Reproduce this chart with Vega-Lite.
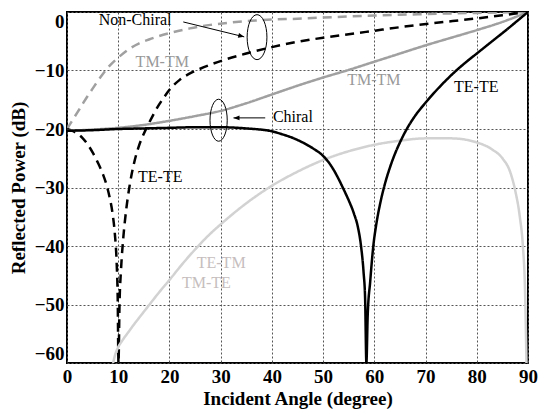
{
  "$schema": "https://vega.github.io/schema/vega-lite/v6.json",
  "width": 461,
  "height": 351,
  "autosize": "none",
  "padding": {"left": 67, "top": 12, "right": 11, "bottom": 48},
  "background": "white",
  "config": {
    "view": {"stroke": "#000000", "strokeWidth": 2},
    "font": "Liberation Serif",
    "axis": {
      "labelFont": "Liberation Serif",
      "labelFontWeight": "bold",
      "labelFontSize": 19,
      "labelColor": "#000000",
      "titleFont": "Liberation Serif",
      "titleFontWeight": "bold",
      "titleFontSize": 19,
      "titleColor": "#000000",
      "grid": true,
      "gridColor": "#555555",
      "gridDash": [2, 2],
      "gridWidth": 1,
      "gridOpacity": 1,
      "domain": false,
      "ticks": false
    }
  },
  "datasets": {
    "curves": [
      {"curve": "Non-Chiral TM-TM", "angle": 0, "power": -20},
      {"curve": "Non-Chiral TM-TM", "angle": 1, "power": -18.6},
      {"curve": "Non-Chiral TM-TM", "angle": 2, "power": -17.2},
      {"curve": "Non-Chiral TM-TM", "angle": 3, "power": -15.8},
      {"curve": "Non-Chiral TM-TM", "angle": 4, "power": -14.4},
      {"curve": "Non-Chiral TM-TM", "angle": 5, "power": -13.1},
      {"curve": "Non-Chiral TM-TM", "angle": 6, "power": -11.8},
      {"curve": "Non-Chiral TM-TM", "angle": 7, "power": -10.6},
      {"curve": "Non-Chiral TM-TM", "angle": 8, "power": -9.5},
      {"curve": "Non-Chiral TM-TM", "angle": 10, "power": -7.8},
      {"curve": "Non-Chiral TM-TM", "angle": 12, "power": -6.4},
      {"curve": "Non-Chiral TM-TM", "angle": 14, "power": -5.4},
      {"curve": "Non-Chiral TM-TM", "angle": 16, "power": -4.7},
      {"curve": "Non-Chiral TM-TM", "angle": 18, "power": -4.1},
      {"curve": "Non-Chiral TM-TM", "angle": 20, "power": -3.6},
      {"curve": "Non-Chiral TM-TM", "angle": 24, "power": -2.8},
      {"curve": "Non-Chiral TM-TM", "angle": 28, "power": -2.2},
      {"curve": "Non-Chiral TM-TM", "angle": 32, "power": -1.8},
      {"curve": "Non-Chiral TM-TM", "angle": 36, "power": -1.5},
      {"curve": "Non-Chiral TM-TM", "angle": 40, "power": -1.3},
      {"curve": "Non-Chiral TM-TM", "angle": 45, "power": -1.15},
      {"curve": "Non-Chiral TM-TM", "angle": 50, "power": -0.95},
      {"curve": "Non-Chiral TM-TM", "angle": 60, "power": -0.6},
      {"curve": "Non-Chiral TM-TM", "angle": 70, "power": -0.35},
      {"curve": "Non-Chiral TM-TM", "angle": 80, "power": -0.15},
      {"curve": "Non-Chiral TM-TM", "angle": 90, "power": 0},

      {"curve": "Non-Chiral TE-TE", "angle": 0, "power": -20},
      {"curve": "Non-Chiral TE-TE", "angle": 1.5, "power": -20.5},
      {"curve": "Non-Chiral TE-TE", "angle": 3, "power": -21.5},
      {"curve": "Non-Chiral TE-TE", "angle": 4, "power": -22.6},
      {"curve": "Non-Chiral TE-TE", "angle": 5, "power": -24},
      {"curve": "Non-Chiral TE-TE", "angle": 6, "power": -25.7},
      {"curve": "Non-Chiral TE-TE", "angle": 7, "power": -27.7},
      {"curve": "Non-Chiral TE-TE", "angle": 7.7, "power": -29.5},
      {"curve": "Non-Chiral TE-TE", "angle": 8.3, "power": -31.6},
      {"curve": "Non-Chiral TE-TE", "angle": 8.9, "power": -34.5},
      {"curve": "Non-Chiral TE-TE", "angle": 9.35, "power": -38},
      {"curve": "Non-Chiral TE-TE", "angle": 9.7, "power": -43},
      {"curve": "Non-Chiral TE-TE", "angle": 9.9, "power": -49},
      {"curve": "Non-Chiral TE-TE", "angle": 10.05, "power": -60},
      {"curve": "Non-Chiral TE-TE", "angle": 10.25, "power": -50},
      {"curve": "Non-Chiral TE-TE", "angle": 10.55, "power": -44},
      {"curve": "Non-Chiral TE-TE", "angle": 11, "power": -38.5},
      {"curve": "Non-Chiral TE-TE", "angle": 11.6, "power": -33.5},
      {"curve": "Non-Chiral TE-TE", "angle": 12.3, "power": -29.3},
      {"curve": "Non-Chiral TE-TE", "angle": 13.1, "power": -25.8},
      {"curve": "Non-Chiral TE-TE", "angle": 14, "power": -23},
      {"curve": "Non-Chiral TE-TE", "angle": 15, "power": -20.8},
      {"curve": "Non-Chiral TE-TE", "angle": 16, "power": -19},
      {"curve": "Non-Chiral TE-TE", "angle": 17, "power": -17.3},
      {"curve": "Non-Chiral TE-TE", "angle": 18, "power": -15.8},
      {"curve": "Non-Chiral TE-TE", "angle": 19, "power": -14.5},
      {"curve": "Non-Chiral TE-TE", "angle": 20, "power": -13.3},
      {"curve": "Non-Chiral TE-TE", "angle": 22, "power": -11.6},
      {"curve": "Non-Chiral TE-TE", "angle": 24, "power": -10.5},
      {"curve": "Non-Chiral TE-TE", "angle": 26, "power": -9.7},
      {"curve": "Non-Chiral TE-TE", "angle": 28, "power": -9.0},
      {"curve": "Non-Chiral TE-TE", "angle": 31, "power": -8.1},
      {"curve": "Non-Chiral TE-TE", "angle": 35, "power": -7.1},
      {"curve": "Non-Chiral TE-TE", "angle": 40, "power": -6.0},
      {"curve": "Non-Chiral TE-TE", "angle": 45, "power": -5.1},
      {"curve": "Non-Chiral TE-TE", "angle": 50, "power": -4.4},
      {"curve": "Non-Chiral TE-TE", "angle": 55, "power": -3.8},
      {"curve": "Non-Chiral TE-TE", "angle": 60, "power": -3.2},
      {"curve": "Non-Chiral TE-TE", "angle": 65, "power": -2.6},
      {"curve": "Non-Chiral TE-TE", "angle": 71, "power": -1.95},
      {"curve": "Non-Chiral TE-TE", "angle": 80, "power": -1.1},
      {"curve": "Non-Chiral TE-TE", "angle": 85, "power": -0.55},
      {"curve": "Non-Chiral TE-TE", "angle": 90, "power": 0},

      {"curve": "Chiral TM-TM", "angle": 0, "power": -20.3},
      {"curve": "Chiral TM-TM", "angle": 5, "power": -20.1},
      {"curve": "Chiral TM-TM", "angle": 10, "power": -19.8},
      {"curve": "Chiral TM-TM", "angle": 15, "power": -19.3},
      {"curve": "Chiral TM-TM", "angle": 20, "power": -18.6},
      {"curve": "Chiral TM-TM", "angle": 25, "power": -17.8},
      {"curve": "Chiral TM-TM", "angle": 30, "power": -16.9},
      {"curve": "Chiral TM-TM", "angle": 35, "power": -15.6},
      {"curve": "Chiral TM-TM", "angle": 40, "power": -14.1},
      {"curve": "Chiral TM-TM", "angle": 45, "power": -12.6},
      {"curve": "Chiral TM-TM", "angle": 50, "power": -11.2},
      {"curve": "Chiral TM-TM", "angle": 55, "power": -9.9},
      {"curve": "Chiral TM-TM", "angle": 60, "power": -8.5},
      {"curve": "Chiral TM-TM", "angle": 65, "power": -7.1},
      {"curve": "Chiral TM-TM", "angle": 70, "power": -5.7},
      {"curve": "Chiral TM-TM", "angle": 75, "power": -4.4},
      {"curve": "Chiral TM-TM", "angle": 80, "power": -3.1},
      {"curve": "Chiral TM-TM", "angle": 85, "power": -1.7},
      {"curve": "Chiral TM-TM", "angle": 90, "power": 0},

      {"curve": "TE-TM / TM-TE", "angle": 9, "power": -60},
      {"curve": "TE-TM / TM-TE", "angle": 9.4, "power": -58.6},
      {"curve": "TE-TM / TM-TE", "angle": 10, "power": -57.3},
      {"curve": "TE-TM / TM-TE", "angle": 11, "power": -55.9},
      {"curve": "TE-TM / TM-TE", "angle": 12, "power": -54.7},
      {"curve": "TE-TM / TM-TE", "angle": 13, "power": -53.5},
      {"curve": "TE-TM / TM-TE", "angle": 14.5, "power": -51.8},
      {"curve": "TE-TM / TM-TE", "angle": 16.2, "power": -49.9},
      {"curve": "TE-TM / TM-TE", "angle": 18, "power": -47.9},
      {"curve": "TE-TM / TM-TE", "angle": 20, "power": -45.8},
      {"curve": "TE-TM / TM-TE", "angle": 22.5, "power": -43.1},
      {"curve": "TE-TM / TM-TE", "angle": 25, "power": -40.6},
      {"curve": "TE-TM / TM-TE", "angle": 27.5, "power": -38.3},
      {"curve": "TE-TM / TM-TE", "angle": 30, "power": -36.3},
      {"curve": "TE-TM / TM-TE", "angle": 35, "power": -32.7},
      {"curve": "TE-TM / TM-TE", "angle": 40, "power": -29.7},
      {"curve": "TE-TM / TM-TE", "angle": 45, "power": -27.3},
      {"curve": "TE-TM / TM-TE", "angle": 50, "power": -25.3},
      {"curve": "TE-TM / TM-TE", "angle": 55, "power": -23.8},
      {"curve": "TE-TM / TM-TE", "angle": 60, "power": -22.7},
      {"curve": "TE-TM / TM-TE", "angle": 65, "power": -22},
      {"curve": "TE-TM / TM-TE", "angle": 70, "power": -21.6},
      {"curve": "TE-TM / TM-TE", "angle": 75, "power": -21.6},
      {"curve": "TE-TM / TM-TE", "angle": 80, "power": -22.3},
      {"curve": "TE-TM / TM-TE", "angle": 83, "power": -23.5},
      {"curve": "TE-TM / TM-TE", "angle": 85, "power": -25},
      {"curve": "TE-TM / TM-TE", "angle": 86.5, "power": -27.3},
      {"curve": "TE-TM / TM-TE", "angle": 87.5, "power": -30.5},
      {"curve": "TE-TM / TM-TE", "angle": 88.4, "power": -35},
      {"curve": "TE-TM / TM-TE", "angle": 89.0, "power": -40},
      {"curve": "TE-TM / TM-TE", "angle": 89.4, "power": -47},
      {"curve": "TE-TM / TM-TE", "angle": 89.7, "power": -60},

      {"curve": "Chiral TE-TE", "angle": 0, "power": -20.3},
      {"curve": "Chiral TE-TE", "angle": 5, "power": -20.2},
      {"curve": "Chiral TE-TE", "angle": 10, "power": -20.0},
      {"curve": "Chiral TE-TE", "angle": 15, "power": -19.9},
      {"curve": "Chiral TE-TE", "angle": 20, "power": -19.8},
      {"curve": "Chiral TE-TE", "angle": 25, "power": -19.7},
      {"curve": "Chiral TE-TE", "angle": 30, "power": -19.7},
      {"curve": "Chiral TE-TE", "angle": 35, "power": -19.9},
      {"curve": "Chiral TE-TE", "angle": 40, "power": -20.4},
      {"curve": "Chiral TE-TE", "angle": 42, "power": -20.9},
      {"curve": "Chiral TE-TE", "angle": 44, "power": -21.5},
      {"curve": "Chiral TE-TE", "angle": 46, "power": -22.3},
      {"curve": "Chiral TE-TE", "angle": 48, "power": -23.3},
      {"curve": "Chiral TE-TE", "angle": 50, "power": -24.6},
      {"curve": "Chiral TE-TE", "angle": 51, "power": -25.6},
      {"curve": "Chiral TE-TE", "angle": 52, "power": -26.9},
      {"curve": "Chiral TE-TE", "angle": 53, "power": -28.5},
      {"curve": "Chiral TE-TE", "angle": 54, "power": -30.3},
      {"curve": "Chiral TE-TE", "angle": 55, "power": -32.2},
      {"curve": "Chiral TE-TE", "angle": 56, "power": -34.4},
      {"curve": "Chiral TE-TE", "angle": 56.8, "power": -36.8},
      {"curve": "Chiral TE-TE", "angle": 57.4, "power": -40},
      {"curve": "Chiral TE-TE", "angle": 57.9, "power": -44.5},
      {"curve": "Chiral TE-TE", "angle": 58.2, "power": -49},
      {"curve": "Chiral TE-TE", "angle": 58.45, "power": -60},
      {"curve": "Chiral TE-TE", "angle": 58.7, "power": -52},
      {"curve": "Chiral TE-TE", "angle": 59.2, "power": -46},
      {"curve": "Chiral TE-TE", "angle": 59.8, "power": -40},
      {"curve": "Chiral TE-TE", "angle": 60.4, "power": -36.2},
      {"curve": "Chiral TE-TE", "angle": 61.1, "power": -32.9},
      {"curve": "Chiral TE-TE", "angle": 62, "power": -29.6},
      {"curve": "Chiral TE-TE", "angle": 63, "power": -26.7},
      {"curve": "Chiral TE-TE", "angle": 64, "power": -24.3},
      {"curve": "Chiral TE-TE", "angle": 65, "power": -22.3},
      {"curve": "Chiral TE-TE", "angle": 66.4, "power": -19.9},
      {"curve": "Chiral TE-TE", "angle": 68, "power": -17.7},
      {"curve": "Chiral TE-TE", "angle": 70, "power": -15.5},
      {"curve": "Chiral TE-TE", "angle": 72, "power": -13.5},
      {"curve": "Chiral TE-TE", "angle": 74.2, "power": -11.5},
      {"curve": "Chiral TE-TE", "angle": 76, "power": -10},
      {"curve": "Chiral TE-TE", "angle": 78, "power": -8.5},
      {"curve": "Chiral TE-TE", "angle": 80, "power": -7.1},
      {"curve": "Chiral TE-TE", "angle": 82, "power": -5.7},
      {"curve": "Chiral TE-TE", "angle": 84, "power": -4.3},
      {"curve": "Chiral TE-TE", "angle": 86, "power": -2.9},
      {"curve": "Chiral TE-TE", "angle": 88, "power": -1.45},
      {"curve": "Chiral TE-TE", "angle": 90, "power": 0}
    ],
    "labels": [
      {"label": "Non-Chiral", "group": "black", "angle": 13.3, "power": -1.4},
      {"label": "Chiral", "group": "black", "angle": 44.1, "power": -17.9},
      {"label": "TE-TE", "group": "black", "angle": 18.2, "power": -28.2},
      {"label": "TE-TE", "group": "black", "angle": 79.9, "power": -12.9},
      {"label": "TM-TM", "group": "gray", "angle": 18.6, "power": -8.5},
      {"label": "TM-TM", "group": "gray", "angle": 59.9, "power": -11.6},
      {"label": "TE-TM", "group": "light", "angle": 30.1, "power": -42.9},
      {"label": "TM-TE", "group": "light", "angle": 27.2, "power": -46.3}
    ],
    "ellipses": [
      {"name": "Non-Chiral", "angle": 37.1, "power": -4.3},
      {"name": "Chiral", "angle": 29.6, "power": -18.5}
    ],
    "arrows": [
      {"name": "Non-Chiral", "angle": 22.7, "power": -1.7, "angle2": 34.6, "power2": -4.25},
      {"name": "Chiral", "angle": 38.7, "power": -18.1, "angle2": 32.5, "power2": -18.1}
    ]
  },
  "layer": [
    {
      "data": {"name": "curves"},
      "mark": {"type": "line", "strokeWidth": 2.5, "clip": true, "interpolate": "monotone"},
      "encoding": {
        "x": {
          "field": "angle",
          "type": "quantitative",
          "scale": {"domain": [0, 90], "nice": false},
          "axis": {
            "title": "Incident Angle (degree)",
            "values": [0, 10, 20, 30, 40, 50, 60, 70, 80, 90],
            "labelFlush": false,
            "labelPadding": 4,
            "titlePadding": 3
          }
        },
        "y": {
          "field": "power",
          "type": "quantitative",
          "scale": {"domain": [-60, 0], "nice": false},
          "axis": {
            "title": "Reflected Power (dB)",
            "values": [-60, -50, -40, -30, -20, -10, 0],
            "labelFlush": true,
            "labelPadding": 3,
            "titlePadding": 6
          }
        },
        "color": {
          "field": "curve",
          "type": "nominal",
          "sort": null,
          "scale": {
            "domain": ["Non-Chiral TM-TM", "Non-Chiral TE-TE", "Chiral TM-TM", "TE-TM / TM-TE", "Chiral TE-TE"],
            "range": ["#a0a0a0", "#000000", "#a0a0a0", "#d2d2d2", "#000000"]
          },
          "legend": null
        },
        "strokeDash": {
          "field": "curve",
          "type": "nominal",
          "scale": {
            "domain": ["Non-Chiral TM-TM", "Non-Chiral TE-TE", "Chiral TM-TM", "TE-TM / TM-TE", "Chiral TE-TE"],
            "range": [[9, 6], [9, 6], [1, 0], [1, 0], [1, 0]]
          },
          "legend": null
        }
      }
    },
    {
      "data": {"name": "arrows"},
      "mark": {"type": "rule", "color": "#000000", "strokeWidth": 1},
      "encoding": {
        "x": {"field": "angle", "type": "quantitative"},
        "y": {"field": "power", "type": "quantitative"},
        "x2": {"field": "angle2"},
        "y2": {"field": "power2"}
      }
    },
    {
      "data": {"name": "arrows"},
      "transform": [{"filter": "datum.name === 'Non-Chiral'"}],
      "mark": {"type": "point", "shape": "M0,0L-2,-0.8L-2,0.8Z", "size": 36, "filled": true, "color": "#000000", "opacity": 1, "angle": 14},
      "encoding": {
        "x": {"field": "angle2", "type": "quantitative"},
        "y": {"field": "power2", "type": "quantitative"}
      }
    },
    {
      "data": {"name": "arrows"},
      "transform": [{"filter": "datum.name === 'Chiral'"}],
      "mark": {"type": "point", "shape": "M0,0L-2,-0.8L-2,0.8Z", "size": 36, "filled": true, "color": "#000000", "opacity": 1, "angle": 180},
      "encoding": {
        "x": {"field": "angle2", "type": "quantitative"},
        "y": {"field": "power2", "type": "quantitative"}
      }
    },
    {
      "data": {"name": "ellipses"},
      "transform": [{"filter": "datum.name === 'Non-Chiral'"}],
      "mark": {"type": "point", "shape": "M0,-1A0.44,1,0,1,1,0,1A0.44,1,0,1,1,0,-1Z", "size": 2025, "filled": false, "stroke": "#000000", "strokeWidth": 1, "opacity": 1},
      "encoding": {
        "x": {"field": "angle", "type": "quantitative"},
        "y": {"field": "power", "type": "quantitative"}
      }
    },
    {
      "data": {"name": "ellipses"},
      "transform": [{"filter": "datum.name === 'Chiral'"}],
      "mark": {"type": "point", "shape": "M0,-1A0.41,1,0,1,1,0,1A0.41,1,0,1,1,0,-1Z", "size": 1764, "filled": false, "stroke": "#000000", "strokeWidth": 1, "opacity": 1},
      "encoding": {
        "x": {"field": "angle", "type": "quantitative"},
        "y": {"field": "power", "type": "quantitative"}
      }
    },
    {
      "data": {"name": "labels"},
      "transform": [{"filter": "datum.group === 'black'"}],
      "mark": {"type": "text", "font": "Liberation Serif", "fontSize": 16, "color": "#000000", "align": "center", "baseline": "middle"},
      "encoding": {
        "x": {"field": "angle", "type": "quantitative"},
        "y": {"field": "power", "type": "quantitative"},
        "text": {"field": "label"}
      }
    },
    {
      "data": {"name": "labels"},
      "transform": [{"filter": "datum.group === 'gray'"}],
      "mark": {"type": "text", "font": "Liberation Serif", "fontSize": 16, "color": "#999999", "align": "center", "baseline": "middle"},
      "encoding": {
        "x": {"field": "angle", "type": "quantitative"},
        "y": {"field": "power", "type": "quantitative"},
        "text": {"field": "label"}
      }
    },
    {
      "data": {"name": "labels"},
      "transform": [{"filter": "datum.group === 'light'"}],
      "mark": {"type": "text", "font": "Liberation Serif", "fontSize": 16, "color": "#c6bebe", "align": "center", "baseline": "middle"},
      "encoding": {
        "x": {"field": "angle", "type": "quantitative"},
        "y": {"field": "power", "type": "quantitative"},
        "text": {"field": "label"}
      }
    }
  ]
}
